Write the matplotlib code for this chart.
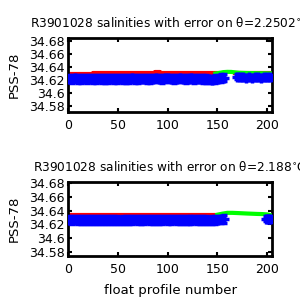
import matplotlib
matplotlib.use("Agg")
import matplotlib.pyplot as plt

plt.rcParams["font.family"] = ["DejaVu Sans"]

# top panel (theta = 2.2502)
top_title = "R3901028 salinities with error on \u03b8=2.2502$^{\\circ}$C"
top_blue_x = [1, 4, 7, 10, 13, 16, 19, 22, 25, 28, 31, 34, 37, 40, 43, 46, 49, 52,
              55, 58, 61, 64, 67, 70, 73, 76, 79, 82, 85, 88, 91, 94, 97, 100, 103,
              106, 109, 112, 115, 118, 121, 124, 127, 130, 133, 136, 139, 142, 145,
              148, 151, 154, 157]
top_blue_y = [34.6222, 34.6218, 34.6225, 34.6220, 34.6215, 34.6221, 34.6219, 34.6223,
              34.6217, 34.6220, 34.6222, 34.6218, 34.6214, 34.6220, 34.6223, 34.6219,
              34.6216, 34.6221, 34.6218, 34.6215, 34.6220, 34.6224, 34.6219, 34.6217,
              34.6221, 34.6223, 34.6220, 34.6218, 34.6222, 34.6225, 34.6221, 34.6219,
              34.6224, 34.6226, 34.6222, 34.6220, 34.6223, 34.6225, 34.6221, 34.6219,
              34.6222, 34.6224, 34.6220, 34.6221, 34.6223, 34.6219, 34.6216, 34.6212,
              34.6208, 34.6215, 34.6222, 34.6230, 34.6238]
top_blue_err = 0.0058
top_blue2_x = [170, 173, 176, 179, 182, 185, 188, 191, 194, 197, 200, 203]
top_blue2_y = [34.6250, 34.6240, 34.6245, 34.6238, 34.6242, 34.6235, 34.6244,
               34.6240, 34.6236, 34.6243, 34.6241, 34.6246]
top_blue2_err = 0.0038
top_red_x = [1, 10, 20, 30, 40, 50, 60, 70, 80, 85, 90, 95, 100, 105, 110, 120,
             130, 140, 150, 155]
top_red_y = [34.6300, 34.6300, 34.6300, 34.6305, 34.6312, 34.6305, 34.6303, 34.6308,
             34.6310, 34.6315, 34.6318, 34.6312, 34.6316, 34.6312, 34.6308, 34.6306,
             34.6304, 34.6305, 34.6302, 34.6300]
top_red2_x = [168, 175, 180, 185, 190, 195, 200, 205]
top_red2_y = [34.6303, 34.6305, 34.6310, 34.6306, 34.6303, 34.6305, 34.6302, 34.6300]
top_green_x = [148, 152, 156, 160, 164, 168, 172, 176, 180, 190, 200, 205]
top_green_y = [34.6300, 34.6310, 34.6322, 34.6326, 34.6325, 34.6318, 34.6312,
               34.6310, 34.6308, 34.6305, 34.6303, 34.6302]

# bottom panel (theta = 2.188)
bot_title = "R3901028 salinities with error on \u03b8=2.188$^{\\circ}$C"
bot_blue_x = top_blue_x
bot_blue_y = [34.6268, 34.6265, 34.6270, 34.6262, 34.6266, 34.6263, 34.6260, 34.6264,
              34.6262, 34.6266, 34.6263, 34.6261, 34.6265, 34.6262, 34.6260, 34.6264,
              34.6262, 34.6259, 34.6263, 34.6266, 34.6262, 34.6264, 34.6267, 34.6263,
              34.6261, 34.6265, 34.6268, 34.6264, 34.6262, 34.6266, 34.6263, 34.6265,
              34.6269, 34.6262, 34.6264, 34.6267, 34.6265, 34.6263, 34.6266, 34.6264,
              34.6262, 34.6265, 34.6268, 34.6264, 34.6266, 34.6263, 34.6260, 34.6258,
              34.6262, 34.6266, 34.6270, 34.6272, 34.6276]
bot_blue_err = 0.0055
bot_blue2_x = [199, 201, 203]
bot_blue2_y = [34.6285, 34.6280, 34.6278]
bot_blue2_err = 0.0042
bot_red_x = [1, 10, 20, 30, 40, 50, 60, 70, 80, 90, 100, 110, 120, 130, 140, 150, 157]
bot_red_y = [34.6330, 34.6332, 34.6333, 34.6333, 34.6336, 34.6332, 34.6333, 34.6336,
             34.6335, 34.6336, 34.6334, 34.6335, 34.6333, 34.6334, 34.6335, 34.6332,
             34.6330]
bot_green_x = [150, 155, 160, 165, 170, 180, 190, 195, 200, 203]
bot_green_y = [34.6340, 34.6356, 34.6368, 34.6368, 34.6365, 34.6358, 34.6352,
               34.6350, 34.6345, 34.6335]

y_ticks = [34.58, 34.6, 34.62, 34.64, 34.66, 34.68]
y_tick_labels = ["34.58", "34.6", "34.62", "34.64", "34.66", "34.68"]
x_ticks = [0, 50, 100, 150, 200]


def style_axes(ax, ylim):
    ax.set_xlim(0, 205)
    ax.set_ylim(*ylim)
    ax.set_yticks(y_ticks)
    ax.set_yticklabels(y_tick_labels)
    ax.set_xticks(x_ticks)
    ax.tick_params(direction="in", length=3, width=1.5, top=True, right=True,
                   labelsize=9, pad=2.5)
    ax.tick_params(axis="x", pad=5)
    for spine in ax.spines.values():
        spine.set_linewidth(2)
    ax.set_ylabel("PSS-78", fontsize=9.5, labelpad=6)


def draw_panel(ax, title, red_sets, green, blue_sets, ylim):
    for rx, ry in red_sets:
        ax.plot(rx, ry, color="#ff0000", lw=3, drawstyle="steps-mid", zorder=2)
    ax.plot(green[0], green[1], color="#00ff00", lw=3, zorder=3)
    for bx, by, be in blue_sets:
        ax.errorbar(bx, by, yerr=be, fmt="+", color="#0000ff", ms=7, mew=2.5,
                    elinewidth=2.5, capsize=2.5, capthick=2, zorder=4)
    style_axes(ax, ylim)
    ax.set_title(title, fontsize=8.7, pad=8)


fig = plt.figure(figsize=(3, 3), dpi=100)
ax1 = fig.add_axes([0.227, 0.627, 0.68, 0.247])
ax2 = fig.add_axes([0.227, 0.147, 0.68, 0.247])

draw_panel(ax1, top_title,
           [(top_red_x, top_red_y), (top_red2_x, top_red2_y)],
           (top_green_x, top_green_y),
           [(top_blue_x, top_blue_y, top_blue_err),
            (top_blue2_x, top_blue2_y, top_blue2_err)],
           (34.571, 34.685))
draw_panel(ax2, bot_title,
           [(bot_red_x, bot_red_y)],
           (bot_green_x, bot_green_y),
           [(bot_blue_x, bot_blue_y, bot_blue_err),
            (bot_blue2_x, bot_blue2_y, bot_blue2_err)],
           (34.5737, 34.6823))
ax2.set_xlabel("float profile number", fontsize=9.5, labelpad=6)

fig.savefig("out.png", dpi=100)
